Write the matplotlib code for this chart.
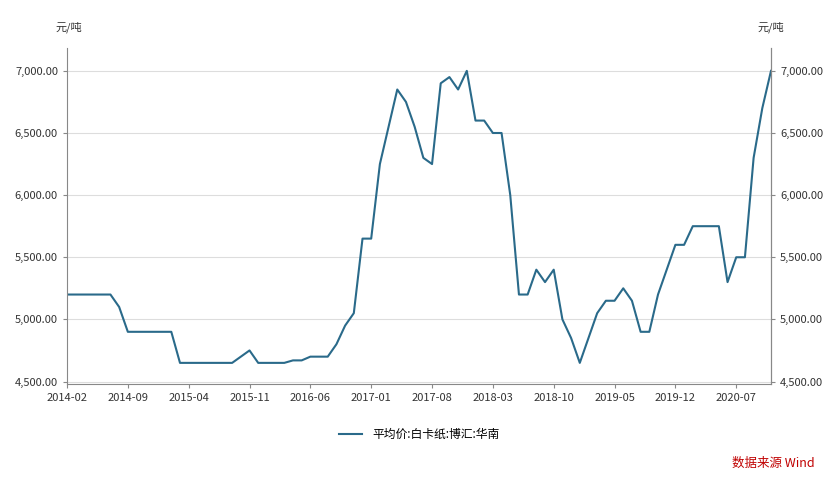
import matplotlib
matplotlib.use("Agg")
import matplotlib.pyplot as plt
import pandas as pd

plt.rcParams['font.family'] = ['Noto Sans CJK SC', 'DejaVu Sans']

start = "2014-02"
values = [5200,5200,5200,5200,5200,5200,5100,4900,4900,4900,4900,4900,4900,
          4650,4650,4650,4650,4650,4650,4650,4700,4750,4650,4650,4650,4650,
          4670,4670,4700,4700,4700,4800,4950,5050,5650,5650,6250,6550,6850,
          6750,6550,6300,6250,6900,6950,6850,7000,6600,6600,6500,6500,6000,
          5200,5200,5400,5300,5400,5000,4850,4650,4850,5050,5150,5150,5250,
          5150,4900,4900,5200,5400,5600,5600,5750,5750,5750,5750,5300,
          5500,5500,6300,6700,7000]
series_name = "平均价:白卡纸:博汇:华南"
dates = pd.period_range(start, periods=len(values), freq="M")
tick_idx = list(range(0, len(values), 7))
tick_labels = [dates[i].strftime("%Y-%m") for i in tick_idx]

fig = plt.figure(figsize=(8.4, 4.8), dpi=100)
ax = fig.add_axes([67/840, 1-384/480, (771-67)/840, (384-48)/480])
ax.plot(range(len(values)), values, color="#2a6a8a", lw=1.5, label=series_name)
ax.set_xlim(0, len(values)-1)
ax.set_ylim(4480, 7184)
yt = [4500, 5000, 5500, 6000, 6500, 7000]
ax.set_yticks(yt)
ax.set_yticklabels([f"{v:,.2f}" for v in yt], fontsize=8, color="#333333")
ax.set_xticks(tick_idx)
ax.set_xticklabels(tick_labels, fontsize=8, color="#333333")
ax.grid(axis="y", color="#dddddd", lw=0.8)
ax.spines["top"].set_visible(False)
for s in ["left", "bottom", "right"]:
    ax.spines[s].set_color("#888888")
ax.tick_params(colors="#888888", labelcolor="#333333", length=3)
ax2 = ax.twinx()
ax2.set_ylim(ax.get_ylim())
ax2.set_yticks(yt)
ax2.set_yticklabels([f"{v:,.2f}" for v in yt], fontsize=8, color="#333333")
for s in ["top", "left", "bottom"]:
    ax2.spines[s].set_visible(False)
ax2.spines["right"].set_color("#888888")
ax2.tick_params(colors="#888888", labelcolor="#333333", length=3)
fig.text(55/840, 1-27/480, "元/吨", fontsize=8, va="center", color="#333333")
fig.text(758/840, 1-27/480, "元/吨", fontsize=8, va="center", color="#333333")
ax.legend(loc="upper center", bbox_to_anchor=(0.5, -0.1), frameon=False, fontsize=8.5)
fig.text(815/840, 1-463/480, "数据来源 Wind", fontsize=9, color="#c00000",
         style="italic", ha="right", va="center")
fig.savefig("out.png")
